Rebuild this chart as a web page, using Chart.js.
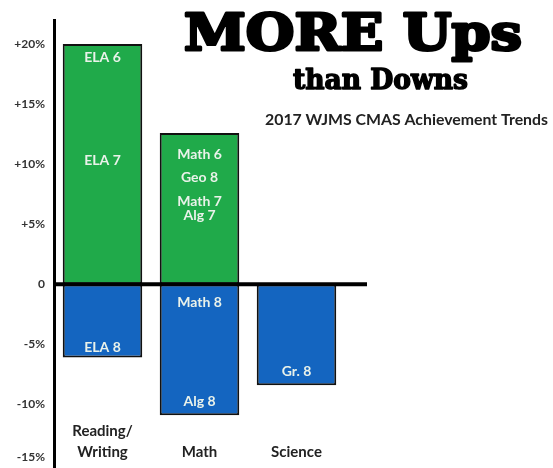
<!DOCTYPE html>
<html>
<head>
<meta charset="utf-8">
<script src="https://cdn.jsdelivr.net/npm/chart.js@4.4.0/dist/chart.umd.min.js"></script>
<style>
  html, body { margin: 0; padding: 0; background: #fff; }
  #wrap { width: 553px; height: 468px; }
</style>
</head>
<body>
<div id="wrap"><canvas id="myChart" width="553" height="468"></canvas></div>
<script>
// chart data
const categories = [['Reading/', 'Writing'], 'Math', 'Science'];
const ups = [20, 12.6, null];
const downs = [-6.1, -10.9, -8.4];
const tickValues = [20, 15, 10, 5, 0, -5, -10, -15];

// grade labels written inside the bars (category index + value where the text sits)
const gradeText = ['ELA 6', 'ELA 7', 'ELA 8', 'Math 6', 'Geo 8', 'Math 7', 'Alg 7', 'Math 8', 'Alg 8', 'Gr. 8'];
const gradeCat  = [0, 0, 0, 1, 1, 1, 1, 1, 1, 2];
const gradeAt   = [18.9, 10.3, -5.3, 10.8, 8.9, 6.9, 5.7, -1.5, -9.8, -7.3];

const titleMain = 'MORE Ups';
const titleSub = 'than Downs';
const subtitle = '2017 WJMS CMAS Achievement Trends';

function tickText(v) {
    if (v > 0) return '+' + v + '%';
    if (v == 0) return '0';
    // lowest label sits at the bottom edge, lift it half a line
    if (v == tickValues[tickValues.length - 1]) return [v + '%', ''];
    return v + '%';
}

const extras = {
    id: 'extras',
    afterDatasetsDraw(chart) {
        const ctx = chart.ctx;
        const x = chart.scales.x, y = chart.scales.y;
        const area = chart.chartArea;
        ctx.save();
        // zero line
        const y0 = y.getPixelForValue(0);
        ctx.strokeStyle = '#000';
        ctx.lineWidth = 4;
        ctx.beginPath();
        ctx.moveTo(area.left, y0);
        ctx.lineTo(area.right + 22, y0);
        ctx.stroke();

        // grade labels
        ctx.fillStyle = '#eaf2ea';
        ctx.font = 'bold 14px Lato';
        ctx.textAlign = 'center';
        ctx.textBaseline = 'middle';
        gradeText.forEach((t, i) => {
            ctx.fillText(t, x.getPixelForValue(gradeCat[i]), y.getPixelForValue(gradeAt[i]));
        });

        // category labels at the bottom
        ctx.fillStyle = '#222';
        ctx.font = 'bold 15px Lato';
        ctx.textBaseline = 'alphabetic';
        categories.forEach((c, i) => {
            const lines = Array.isArray(c) ? c : [c];
            const cx = x.getPixelForValue(i);
            let by = 457 - (lines.length - 1) * 21;
            lines.forEach(l => { ctx.fillText(l, cx, by); by += 21; });
        });

        // titles
        ctx.fillStyle = '#000';
        ctx.strokeStyle = '#000';
        ctx.lineJoin = 'round';
        ctx.textAlign = 'left';
        ctx.font = 'bold 50px "DejaVu Serif"';
        let w = ctx.measureText(titleMain).width;
        ctx.save();
        ctx.translate(184, 50);
        ctx.scale(338 / w, 1);
        ctx.lineWidth = 3;
        ctx.strokeText(titleMain, 0, 0);
        ctx.fillText(titleMain, 0, 0);
        ctx.restore();

        ctx.font = 'bold 28px "DejaVu Serif"';
        w = ctx.measureText(titleSub).width;
        ctx.save();
        ctx.translate(293, 89);
        ctx.scale(175 / w, 1);
        ctx.lineWidth = 1.5;
        ctx.strokeText(titleSub, 0, 0);
        ctx.fillText(titleSub, 0, 0);
        ctx.restore();

        ctx.fillStyle = '#222';
        ctx.font = 'bold 16px Lato';
        ctx.fillText(subtitle, 265, 125, 283);
        ctx.restore();
    }
};

const ctx = document.getElementById('myChart').getContext('2d');
const chart = new Chart(ctx, {
    type: 'bar',
    data: {
        labels: categories,
        datasets: [{
            label: 'Up',
            data: ups,
            backgroundColor: 'rgb(32,170,74)',
            borderColor: '#111',
            borderWidth: 2,
            borderSkipped: false
        }, {
            label: 'Down',
            data: downs,
            backgroundColor: 'rgb(20,101,192)',
            borderColor: '#111',
            borderWidth: 2,
            borderSkipped: false
        }]
    },
    options: {
        responsive: false,
        animation: false,
        layout: { padding: { top: 20, right: 208, bottom: 0, left: 0 } },
        plugins: {
            legend: { display: false },
            tooltip: { enabled: false }
        },
        datasets: {
            bar: { categoryPercentage: 1, barPercentage: 0.82 }
        },
        scales: {
            x: {
                stacked: true,
                display: false
            },
            y: {
                stacked: true,
                min: -15.3,
                max: 22,
                afterFit(scale) {
                    scale.width = 54;
                    scale.paddingTop = 0;
                    scale.paddingBottom = 0;
                },
                afterBuildTicks(scale) {
                    scale.ticks = tickValues.map(v => ({ value: v }));
                },
                grid: { display: false, drawTicks: false },
                border: { display: true, color: '#000', width: 3 },
                ticks: {
                    padding: 9,
                    color: '#333',
                    font: { family: 'Lato', weight: 'bold', size: 12 },
                    callback: v => tickText(v)
                }
            }
        }
    },
    plugins: [extras]
});
</script>
</body>
</html>
